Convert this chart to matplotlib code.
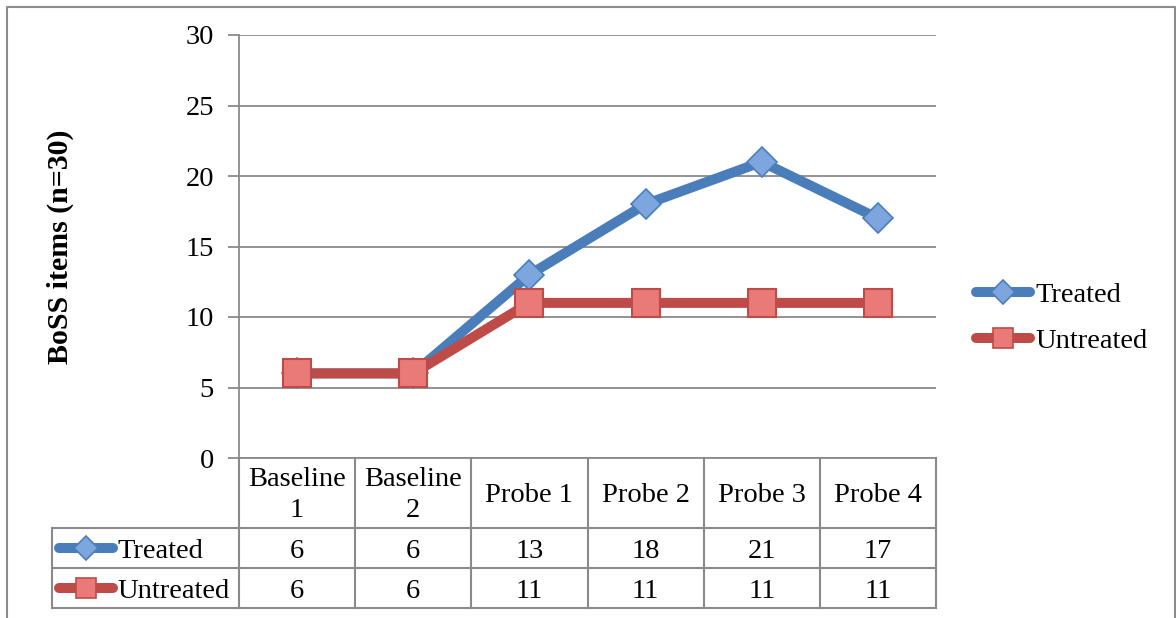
import matplotlib
matplotlib.use("Agg")
import matplotlib.pyplot as plt
from matplotlib.lines import Line2D
import matplotlib.transforms as mtransforms

categories = ["Baseline\n1", "Baseline\n2", "Probe 1", "Probe 2", "Probe 3", "Probe 4"]
treated = [6, 6, 13, 18, 21, 17]
untreated = [6, 6, 11, 11, 11, 11]
series_names = ["Treated", "Untreated"]
yticks = [0, 5, 10, 15, 20, 25, 30]
ylabel = "BoSS items (n=30)"

W, H = 1176, 618
plt.rcParams['font.family'] = ['Liberation Serif', 'DejaVu Serif']
FS = 20.5

blue = "#4A7EBB"
blue_face = "#7EA6DE"
red = "#BE4B48"
red_face = "#E97A77"
grid_c = "#8A8A8A"

fig = plt.figure(figsize=(W / 100, H / 100), dpi=100)

def fx(px):
    return px / W

def fy(py):
    return 1 - py / H

L, R, T, B = 239, 936, 35, 458
ax = fig.add_axes([fx(L), fy(B), fx(R) - fx(L), fy(T) - fy(B)])
n = len(categories)
x = list(range(n))

LW = 7.2
ax.plot(x, treated, color=blue, lw=LW, solid_capstyle='round', solid_joinstyle='round', zorder=3)
ax.plot(x, treated, ls='none', marker='D', ms=15, mfc=blue_face, mec=blue, mew=1.2, zorder=5)
ax.plot(x, untreated, color=red, lw=LW, solid_capstyle='round', solid_joinstyle='round', zorder=4)
ax.plot(x, untreated, ls='none', marker='s', ms=20, mfc=red_face, mec=red, mew=1.5, zorder=6)

ax.set_xlim(-0.5, n - 0.5)
ax.set_ylim(0, 30)
ax.set_yticks(yticks)
ax.set_yticklabels([str(v) for v in yticks], fontsize=FS)
ax.tick_params(axis='y', length=8, width=1.3, color=grid_c, pad=10)
for lbl in ax.get_yticklabels():
    lbl.set_verticalalignment('center_baseline')
ax.set_xticks([])
for s in ['top', 'right', 'bottom']:
    ax.spines[s].set_visible(False)
ax.spines['left'].set_color(grid_c)
ax.spines['left'].set_linewidth(1.3)
ax.grid(axis='y', color=grid_c, lw=1.3)
ax.set_axisbelow(True)
ax.axhline(0, color=grid_c, lw=1.3, clip_on=False)

# Y label
fig.text(fx(60), fy(247), ylabel, rotation=90, fontsize=21.5, fontweight='bold',
         ha='center', va='center')

# Table
tr = mtransforms.blended_transform_factory(ax.transData, fig.transFigure)
row_tops = [458, 528, 568, 608]
lc = "#8A8A8A"
lw_t = 1.5
for i in range(n + 1):
    xb = i - 0.5
    fig.add_artist(Line2D([xb, xb], [fy(row_tops[0]), fy(row_tops[-1])], transform=tr,
                          color=lc, lw=lw_t))
for yy in row_tops[1:]:
    fig.add_artist(Line2D([fx(52), fx(R)], [fy(yy), fy(yy)], transform=fig.transFigure,
                          color=lc, lw=lw_t))
fig.add_artist(Line2D([fx(52), fx(52)], [fy(528), fy(608)], transform=fig.transFigure,
                      color=lc, lw=lw_t))

for i, c in enumerate(categories):
    fig.text(i, fy(495), c, transform=tr, ha='center', va='center', fontsize=FS,
             linespacing=1.3)
row_centers = [549, 589]
for vals, yy in zip([treated, untreated], row_centers):
    for i, v in enumerate(vals):
        fig.text(i, fy(yy), str(v), transform=tr, ha='center', va='center_baseline', fontsize=FS)

def legend_key(x0, x1, yc, color, face, marker, ms):
    fig.add_artist(Line2D([fx(x0), fx(x1)], [fy(yc), fy(yc)], transform=fig.transFigure,
                          color=color, lw=LW, solid_capstyle='round'))
    fig.add_artist(Line2D([fx((x0 + x1) / 2)], [fy(yc)], transform=fig.transFigure,
                          ls='none', marker=marker, ms=ms, mfc=face, mec=color, mew=1.2))

# legend inside table
legend_key(59, 113, 548, blue, blue_face, 'D', 12)
fig.text(fx(117), fy(549), series_names[0], ha='left', va='center_baseline', fontsize=FS)
legend_key(59, 113, 588, red, red_face, 's', 15)
fig.text(fx(117), fy(589), series_names[1], ha='left', va='center_baseline', fontsize=FS)

# right legend
legend_key(976, 1030, 292, blue, blue_face, 'D', 12)
fig.text(fx(1035), fy(293), series_names[0], ha='left', va='center_baseline', fontsize=FS)
legend_key(976, 1030, 338, red, red_face, 's', 15)
fig.text(fx(1035), fy(339), series_names[1], ha='left', va='center_baseline', fontsize=FS)

# outer frame
fc = "#8C8C8C"
fig.add_artist(Line2D([fx(7), fx(7), fx(1175), fx(1175)], [fy(618), fy(7), fy(7), fy(618)],
                      transform=fig.transFigure, color=fc, lw=1.5))

fig.savefig("out.png", dpi=100)
